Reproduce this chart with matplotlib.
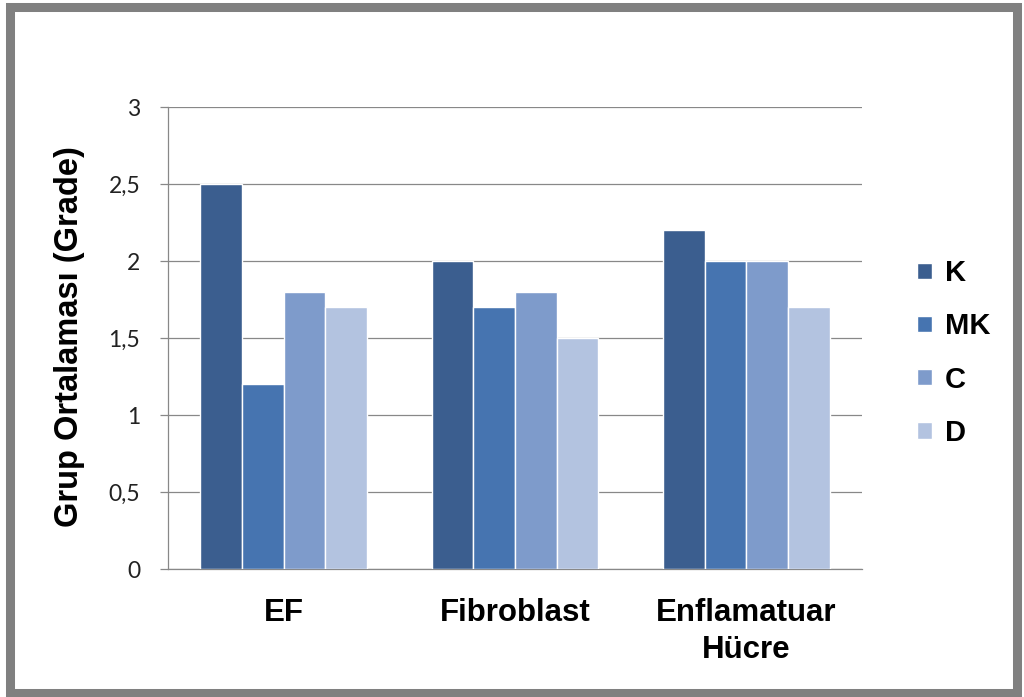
import matplotlib.pyplot as plt
import numpy as np
from matplotlib.patches import Rectangle

categories = ["EF", "Fibroblast", "Enflamatuar\nHücre"]
series_names = ["K", "MK", "C", "D"]
k_values = [2.5, 2.0, 2.2]
mk_values = [1.2, 1.7, 2.0]
c_values = [1.8, 1.8, 2.0]
d_values = [1.7, 1.5, 1.7]
y_ticks = [0, 0.5, 1, 1.5, 2, 2.5, 3]
y_tick_labels = ["0", "0,5", "1", "1,5", "2", "2,5", "3"]

colors = ["#3B5E8F", "#4674B0", "#7E9BCB", "#B3C3E0"]
grid_color = "#888888"


def main() -> None:
	fig = plt.figure(figsize=(10.24, 6.97), dpi=100)
	axis = fig.add_axes([168 / 1024, 1 - 569 / 697, (862 - 168) / 1024, (569 - 107) / 697])

	x = np.arange(len(categories))
	bar_width = 0.18
	offsets = (np.arange(len(series_names)) - 1.5) * bar_width
	all_values = [k_values, mk_values, c_values, d_values]

	for index, name in enumerate(series_names):
		axis.bar(
			x + offsets[index],
			all_values[index],
			bar_width,
			label=name,
			color=colors[index],
			edgecolor="white",
			linewidth=1.0,
			zorder=3,
		)

	axis.set_xlim(-0.5, len(categories) - 0.5)
	axis.set_ylim(0, 3)
	axis.set_yticks(y_ticks)
	axis.set_yticklabels(y_tick_labels, fontfamily="Lato", fontsize=16.5, color="#222222")
	axis.set_xticks(x)
	axis.set_xticklabels(categories, fontfamily="Liberation Sans", fontweight="bold",
		fontsize=22.5, linespacing=1.3, va="top")
	axis.tick_params(axis="x", length=0, pad=21)
	axis.tick_params(axis="y", length=6, width=0.9, color=grid_color, pad=14)

	axis.grid(True, axis="y", color=grid_color, linewidth=0.9)
	axis.set_axisbelow(True)
	for side in ["top", "right"]:
		axis.spines[side].set_visible(False)
	for side in ["left", "bottom"]:
		axis.spines[side].set_color(grid_color)
		axis.spines[side].set_linewidth(0.9)

	fig.text(70 / 1024, 1 - 337 / 697, "Grup Ortalaması (Grade)", rotation=90,
		ha="center", va="center", fontfamily="Liberation Sans", fontweight="bold", fontsize=23.5)

	fig.legend(
		loc="center left",
		bbox_to_anchor=(891 / 1024, 1 - 353 / 697),
		frameon=False,
		prop={"family": "Liberation Sans", "weight": "bold", "size": 21},
		handlelength=0.5,
		handleheight=0.5,
		handletextpad=0.45,
		labelspacing=0.86,
	)

	fig.patches.append(Rectangle((10 / 1024, 4 / 697), 1007 / 1024, 686 / 697,
		transform=fig.transFigure, fill=False, edgecolor="#808080", linewidth=6.5,
		joinstyle="miter", zorder=10))

	fig.savefig("out.png", dpi=100)


if __name__ == "__main__":
	main()
